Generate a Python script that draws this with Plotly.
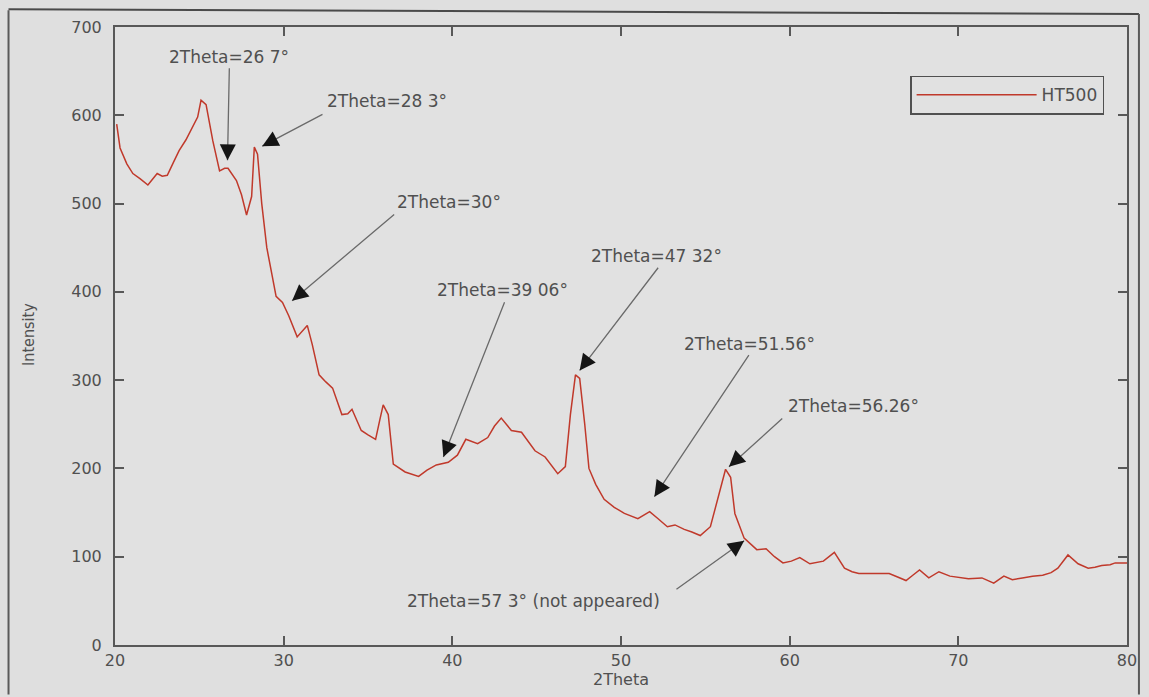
import plotly.graph_objects as go

# XRD pattern of sample HT500
two_theta = [20.1, 20.3, 20.7, 21.06, 21.5, 21.95, 22.2, 22.5, 22.8, 23.1, 23.5, 23.8, 24.2, 24.6,
             24.9, 25.1, 25.4, 25.8, 26.2, 26.5, 26.7, 27.2, 27.5, 27.8, 28.1, 28.26, 28.45,
             28.7, 29.0, 29.3, 29.55, 29.93, 30.3, 30.8, 31.1, 31.4, 31.7, 32.1, 32.5, 32.9,
             33.45, 33.8, 34.05, 34.6, 35.0, 35.45, 35.7, 35.9, 36.2, 36.5, 37.2, 38.0, 38.5,
             39.05, 39.76, 40.3, 40.8, 41.5, 42.1, 42.5, 42.9, 43.5, 44.1, 44.5, 44.9, 45.5,
             46.25, 46.7, 47.0, 47.3, 47.55, 47.85, 48.1, 48.5, 49.0, 49.6, 50.2, 51.0, 51.7,
             52.2, 52.75, 53.2, 53.75, 54.2, 54.7, 55.3, 55.9, 56.2, 56.5, 56.75, 57.3, 57.7,
             58.05, 58.6, 59.1, 59.6, 60.1, 60.6, 61.2, 62.0, 62.65, 63.25, 63.7, 64.1, 65.0,
             65.9, 66.4, 66.9, 67.3, 67.7, 68.25, 68.85, 69.5, 70.1, 70.6, 71.4, 72.1, 72.7,
             73.2, 73.8, 74.4, 75.0, 75.5, 75.9, 76.5, 77.1, 77.7, 78.1, 78.5, 79.0, 79.3, 80.0]
intensity = [590, 563, 545, 534, 528, 521, 527, 534, 531, 532, 548, 560, 572, 586,
             598, 617, 612, 571, 537, 540, 540, 526, 510, 487, 508, 564, 556,
             500, 450, 420, 395, 388, 373, 349, 356, 362, 340, 306, 298, 291,
             261, 262, 267, 243, 238, 233, 255, 272, 261, 205, 196, 191, 198,
             204, 207, 215, 233, 228, 235, 248, 257, 243, 241, 230, 220, 213,
             194, 202, 261, 306, 302, 250, 200, 182, 165, 156, 149, 143, 151,
             143, 134, 136, 131, 128, 124, 134, 179, 199, 190, 149, 121, 114,
             108, 109, 100, 93, 95, 99, 92, 95, 105, 87, 83, 81, 81,
             81, 77, 73, 79, 85, 76, 83, 78, 76, 75, 76, 70, 78,
             74, 76, 78, 79, 82, 87, 102, 92, 87, 88, 90, 91, 93, 93]

# Peak labels: text, text anchor point and side, arrow tail and arrow tip (data units)
peak_labels = ["2Theta=26 7°", "2Theta=28 3°", "2Theta=30°", "2Theta=39 06°",
               "2Theta=47 32°", "2Theta=51.56°", "2Theta=56.26°",
               "2Theta=57 3° (not appeared)"]
label_x = [26.78, 32.45, 36.6, 43.0, 52.1, 57.64, 59.8, 52.45]
label_y = [666, 616, 502, 402, 441, 341, 271, 50]
label_anchor = ["center", "left", "left", "center", "center", "center", "left", "right"]
tail_x = [26.78, 32.39, 36.64, 43.13, 52.27, 57.64, 59.65, 53.2]
tail_y = [655, 602, 489, 390, 429, 330, 258, 62]
tip_x = [26.67, 28.73, 30.5, 39.47, 47.55, 51.98, 56.4, 57.3]
tip_y = [549, 565, 390, 213, 311, 168, 202, 118]

x_ticks = [20, 30, 40, 50, 60, 70, 80]
y_ticks = [0, 100, 200, 300, 400, 500, 600, 700]

W, H = 1149, 697
M_L, M_R, M_T, M_B = 115, 17, 27, 47
plot_w = W - M_L - M_R
plot_h = H - M_T - M_B
x_range = [20, 80]
y_range = [0, 700]
sx = plot_w / (x_range[1] - x_range[0])
sy = plot_h / (y_range[1] - y_range[0])

FONT = "DejaVu Sans, Verdana, sans-serif"
TXT = "#505050"
AX = "#585858"
BG = "#dfdfdf"

fig = go.Figure()
fig.add_trace(go.Scatter(
    x=two_theta, y=intensity, mode="lines", name="HT500",
    line=dict(color="#c0392b", width=1.5, shape="linear"),
))

annotations = []
for txt, lx, ly, anc, ax_, ay_, tx, ty in zip(peak_labels, label_x, label_y, label_anchor,
                                               tail_x, tail_y, tip_x, tip_y):
    annotations.append(dict(x=lx, y=ly, xref="x", yref="y", text=txt, showarrow=False,
                            xanchor=anc, yanchor="middle",
                            font=dict(family=FONT, size=17, color=TXT)))
    # grey shaft
    annotations.append(dict(x=tx, y=ty, ax=ax_, ay=ay_, xref="x", yref="y",
                            axref="x", ayref="y", text="", showarrow=True,
                            arrowhead=0, arrowwidth=1.3, arrowcolor="#6a6a6a"))
    # black arrow head, short segment near the tip
    dxp = (ax_ - tx) * sx
    dyp = -(ay_ - ty) * sy
    n = (dxp ** 2 + dyp ** 2) ** 0.5
    annotations.append(dict(x=tx, y=ty, ax=dxp / n * 14, ay=dyp / n * 14,
                            xref="x", yref="y", text="", showarrow=True,
                            arrowhead=2, arrowsize=2.0, arrowwidth=1.6,
                            arrowcolor="#151515"))

# y axis title (narrow face)
annotations.append(dict(x=(28 - M_L) / plot_w, y=(H - M_B - 337) / plot_h,
                        xref="paper", yref="paper", text="Intensity", showarrow=False,
                        textangle=-90, xanchor="center", yanchor="middle",
                        font=dict(family="Liberation Sans Narrow, DejaVu Sans Condensed, sans-serif",
                                  size=16, color=TXT)))


def px_x(p):
    return (p - M_L) / plot_w


def px_y(p):
    return (H - M_B - p) / plot_h


# outer frame around the figure
shapes = [
    dict(type="line", xref="paper", yref="paper", x0=px_x(8), x1=px_x(8),
         y0=px_y(10), y1=px_y(700), line=dict(color="#5a5a5a", width=2)),
    dict(type="line", xref="paper", yref="paper", x0=px_x(8), x1=px_x(1144),
         y0=px_y(9), y1=px_y(14), line=dict(color="#4a4a4a", width=2)),
    dict(type="line", xref="paper", yref="paper", x0=px_x(1144), x1=px_x(1144),
         y0=px_y(14), y1=px_y(700), line=dict(color="#5a5a5a", width=2)),
]

fig.update_layout(
    width=W, height=H,
    margin=dict(l=M_L, r=M_R, t=M_T, b=M_B, pad=0),
    paper_bgcolor=BG, plot_bgcolor="#e1e1e1",
    font=dict(family=FONT, size=16, color=TXT),
    showlegend=True,
    legend=dict(x=px_x(1109), y=px_y(76), xanchor="right", yanchor="top",
                bgcolor="#e1e1e1", bordercolor="#505050", borderwidth=1.5,
                itemwidth=120, font=dict(family=FONT, size=17, color=TXT),
                tracegroupgap=0),
    annotations=annotations,
    shapes=shapes,
    xaxis=dict(range=x_range, tickvals=x_ticks, ticks="inside", ticklen=9,
               tickwidth=1.5, tickcolor=AX, showline=True, linecolor=AX, linewidth=2,
               mirror="ticks", showgrid=False, zeroline=False,
               tickfont=dict(family=FONT, size=16, color=TXT),
               title=dict(text="2Theta", standoff=4,
                          font=dict(family=FONT, size=16, color=TXT))),
    yaxis=dict(range=y_range, tickvals=y_ticks, ticks="inside", ticklen=9,
               tickwidth=1.5, tickcolor=AX, showline=True, linecolor=AX, linewidth=2,
               mirror="ticks", showgrid=False, zeroline=False, ticklabelstandoff=8,
               tickfont=dict(family=FONT, size=16, color=TXT)),
)

fig.write_html("out.html")
